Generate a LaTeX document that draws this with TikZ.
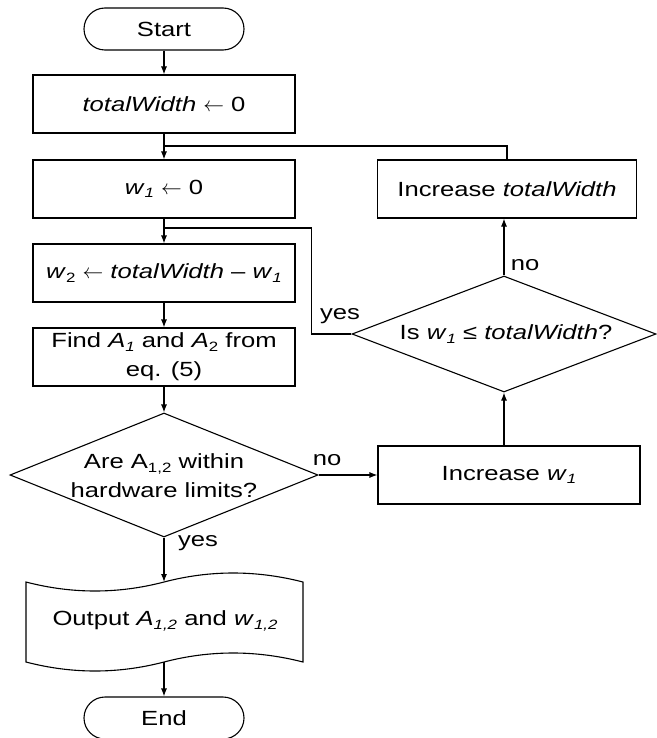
\documentclass[tikz,border=0pt]{standalone}
\usepackage{fontspec}
\setmainfont[FakeStretch=1.25]{Liberation Sans}
\usetikzlibrary{arrows.meta,shapes.geometric}
\newcommand\sbs[1]{\raisebox{-0.3ex}{\fontsize{13.5}{14}\selectfont #1}}
\newcommand\wi[1]{\textit{w}\sbs{\itshape #1}}
\newcommand\larr{\ensuremath{\leftarrow}}
\begin{document}
\begin{tikzpicture}[x=1pt,y=-1pt, line width=1.1pt,
  font=\fontsize{20.5}{29}\selectfont,
  box/.style={draw, rectangle, minimum width=262pt, minimum height=58pt, inner sep=0pt, align=center},
  term/.style={draw, rectangle, rounded corners=21pt, minimum width=160pt, minimum height=42pt, inner sep=0pt},
  dia/.style={draw, diamond, inner sep=0pt},
  arr/.style={-{Latex[length=8pt,width=6pt]}},
  lbl/.style={inner sep=0pt, align=center}]
\useasboundingbox (0,0) rectangle (656,738);

% left column
\node[term] (start) at (164,29) {Start};
\node[box] (tw) at (164,104) {\textit{totalWidth} \larr{} 0};
\node[box] (w1) at (164,189) {\wi{1} \larr{} 0};
\node[box] (w2) at (164,273) {\textit{w}\sbs{2} \larr{} \textit{totalWidth} – \wi{1}};
\node[box] (find) at (164,357) {Find \textit{A}\sbs{\itshape 1} and \textit{A}\sbs{2} from\\eq. (5)};
\node[dia, minimum width=308pt, minimum height=124pt] (d1) at (164,475) {};
\node[lbl] (d1t) at (164,476) {Are A\sbs{1,2} within\\hardware limits?};
\coordinate (outtop) at (164,582);
\coordinate (outbot) at (164,662);
\draw (26,582) .. controls (72,594) and (118,594) .. (outtop)
  .. controls (210,570) and (256,570) .. (303,582) -- (303,662)
  .. controls (256,650) and (210,650) .. (outbot)
  .. controls (118,674) and (72,674) .. (26,662) -- cycle;
\node[lbl] (out) at (165,621) {Output \textit{A}\sbs{\itshape 1,2} and \textit{w}\sbs{\itshape 1,2}};
\node[term] (end) at (164,718) {End};

% right column
\node[box, minimum width=259pt] (incW) at (507,189) {Increase \textit{totalWidth}};
\node[dia, minimum width=304pt, minimum height=116pt] (d2) at (504,334) {};
\node[lbl] (d2t) at (506,334) {Is \wi{1} ≤ \textit{totalWidth}?};
\node[box] (incw1) at (509,475) {Increase \wi{1}};

% junctions
\coordinate (j1) at (164,146);
\coordinate (j2) at (164,228);

% connectors
\draw[arr] (start) -- (tw);
\draw[arr] (tw) -- (w1);
\draw[arr] (w1) -- (w2);
\draw[arr] (w2) -- (find);
\draw[arr] (find) -- (d1.north);
\draw[arr] (d1.south) -- (outtop);
\draw[arr] (outbot) -- (end);
\draw[arr] (d1.east) -- (incw1.west);
\draw[arr] (incw1.north -| d2.south) -- (d2.south);
\draw[arr] (d2.north) -- (incW.south -| d2.north);
\draw (incW.north) |- (j1);
\draw (d2.west) -- ++(-40,0) |- (j2);

% labels
\node[lbl] (lno1) at (327,460) {no};
\node[lbl] (lyes1) at (198,543) {yes};
\node[lbl] (lno2) at (525,265) {no};
\node[lbl] (lyes2) at (340,316) {yes};
\end{tikzpicture}
\end{document}
